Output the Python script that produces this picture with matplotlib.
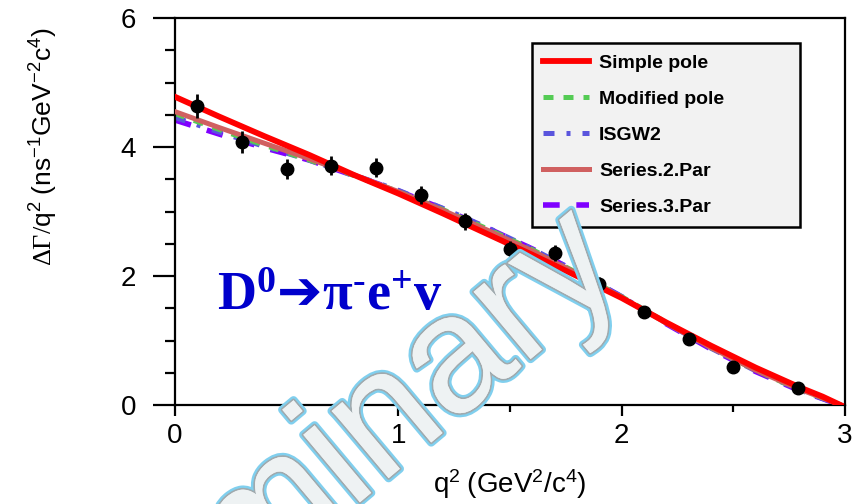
import matplotlib
matplotlib.use("Agg")
import matplotlib.pyplot as plt
import matplotlib.patheffects as pe
from matplotlib.ticker import MultipleLocator

plt.rcParams["font.family"] = ["Liberation Sans", "DejaVu Sans"]
plt.rcParams["mathtext.fontset"] = "custom"
plt.rcParams["mathtext.rm"] = "Liberation Serif"
plt.rcParams["mathtext.it"] = "Liberation Serif:italic"
plt.rcParams["mathtext.bf"] = "Liberation Serif:bold"
plt.rcParams["mathtext.sf"] = "DejaVu Sans"

# measured points
q2 = [0.10, 0.30, 0.50, 0.70, 0.90, 1.10, 1.30, 1.50, 1.70, 1.90, 2.10, 2.30, 2.50, 2.79]
rate = [4.64, 4.08, 3.66, 3.71, 3.68, 3.26, 2.85, 2.42, 2.36, 1.88, 1.44, 1.03, 0.59, 0.27]
rate_err = [0.19, 0.17, 0.15, 0.15, 0.15, 0.14, 0.13, 0.12, 0.12, 0.10, 0.07, 0.06, 0.05, 0.05]

# fitted form factor curves
q2_fit = [0.0, 0.2, 0.4, 0.6, 0.8, 1.0, 1.2, 1.4, 1.6, 1.8, 2.0, 2.2, 2.4, 2.6, 2.8, 2.9, 2.98]
simple_pole = [4.78, 4.47, 4.17, 3.88, 3.57, 3.28, 2.97, 2.65, 2.33, 2.00, 1.66, 1.28, 0.92, 0.58, 0.27, 0.13, 0.0]
modified_pole = [4.52, 4.27, 4.03, 3.80, 3.56, 3.31, 3.03, 2.73, 2.41, 2.05, 1.68, 1.28, 0.89, 0.54, 0.23, 0.11, 0.0]
isgw2 = [4.46, 4.23, 4.01, 3.80, 3.57, 3.33, 3.05, 2.75, 2.42, 2.06, 1.68, 1.27, 0.88, 0.53, 0.23, 0.10, 0.0]
series2 = [4.55, 4.30, 4.06, 3.82, 3.57, 3.31, 3.02, 2.71, 2.39, 2.04, 1.67, 1.27, 0.89, 0.54, 0.24, 0.11, 0.0]
series3 = [4.42, 4.20, 3.99, 3.80, 3.56, 3.32, 3.04, 2.74, 2.42, 2.06, 1.68, 1.26, 0.87, 0.52, 0.22, 0.10, 0.0]

fig = plt.figure(figsize=(8.52, 5.04), dpi=100)
ax = fig.add_axes([0.2054, 0.1964, 0.7864, 0.7676])

ax.plot(q2_fit, series3, color="#7f00ff", lw=4.0, ls=(0, (3.0, 3.0)), label="Series.3.Par", zorder=2)
ax.plot(q2_fit, isgw2, color="#5a55dd", lw=3.6, ls=(0, (2.2, 2.4, 0.8, 2.4)), label="ISGW2", zorder=2)
ax.plot(q2_fit, modified_pole, color="#55cc55", lw=3.6, ls=(0, (2, 2)), label="Modified pole", zorder=2)
ax.plot(q2_fit, series2, color="#d06060", lw=3.6, label="Series.2.Par", zorder=3)
ax.plot(q2_fit, simple_pole, color="#ff0000", lw=4.2, label="Simple pole", zorder=4)

ax.errorbar(q2, rate, yerr=rate_err, fmt="o", color="black", ms=9,
            elinewidth=2, capsize=0, zorder=5)

ax.set_xlim(0, 3)
ax.set_ylim(0, 6)
ax.xaxis.set_major_locator(MultipleLocator(1))
ax.xaxis.set_minor_locator(MultipleLocator(0.5))
ax.yaxis.set_major_locator(MultipleLocator(2))
ax.yaxis.set_minor_locator(MultipleLocator(0.5))
ax.tick_params(axis="both", which="both", direction="out", width=1.6, labelsize=20)
ax.tick_params(axis="y", which="major", length=16, pad=12)
ax.tick_params(axis="y", which="minor", length=7)
ax.tick_params(axis="x", which="major", length=8, pad=5)
ax.tick_params(axis="x", which="minor", length=5)
for spine in ax.spines.values():
    spine.set_linewidth(1.6)

ax.set_xlabel(r"$\mathregular{q^2\ (GeV^2/c^4)}$", fontsize=20)
ax.set_ylabel(r"$\Delta\Gamma/\mathregular{q^2\ (ns^{-1}GeV^{-2}c^4)}$", fontsize=19)
ax.xaxis.set_label_coords(0.5, -0.162)
ax.yaxis.set_label_coords(-0.172, 0.667)

# legend order as in the original
handles, labels = ax.get_legend_handles_labels()
order = ["Simple pole", "Modified pole", "ISGW2", "Series.2.Par", "Series.3.Par"]
hmap = dict(zip(labels, handles))
leg = ax.legend([hmap[k] for k in order], order, loc="upper left",
                bbox_to_anchor=(0.533, 0.465, 0.40, 0.47), mode="expand",
                borderaxespad=0, fancybox=False,
                framealpha=1, facecolor="#f2f2f2", edgecolor="black",
                prop={"size": 14, "weight": "bold"}, handlelength=2.4,
                labelspacing=0.95, borderpad=0.55, handletextpad=0.5)
leg.get_frame().set_linewidth(1.8)

ax.text(0.063, 0.245, r"$\mathbf{D^0}\mathsf{➔}\mathbf{\pi^{‐}e^{+}v}$", transform=ax.transAxes,
        color="#0000cc", fontsize=39, va="baseline", zorder=6)

# watermark
ax.text(0.676, 0.33, "Preliminary", transform=ax.transAxes, fontsize=120,
        rotation=40, rotation_mode="anchor", ha="right", va="baseline",
        color="#eef2f3", zorder=7, clip_on=False,
        path_effects=[pe.withStroke(linewidth=6, foreground="#80cfee"),
                      pe.withStroke(linewidth=2.5, foreground="#a0aaae"),
                      pe.Normal()])

fig.savefig("out.png", dpi=100)
